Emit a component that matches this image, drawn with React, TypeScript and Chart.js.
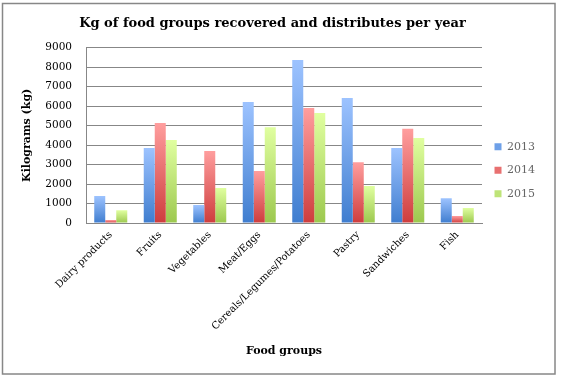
import React, { useEffect, useRef } from "react";
import { Chart, registerables } from "chart.js";

Chart.register(...registerables);

const categories = [
  "Dairy products",
  "Fruits",
  "Vegetables",
  "Meat/Eggs",
  "Cereals/Legumes/Potatoes",
  "Pastry",
  "Sandwiches",
  "Fish",
];
const years = ["2013", "2014", "2015"];
const values2013 = [1390, 3850, 920, 6210, 8370, 6420, 3850, 1270];
const values2014 = [150, 5130, 3700, 2670, 5900, 3120, 4830, 360];
const values2015 = [650, 4260, 1800, 4910, 5650, 1900, 4360, 770];
const yTicks = [0, 1000, 2000, 3000, 4000, 5000, 6000, 7000, 8000, 9000];

const topColors = ["#9DC3FF", "#FF9E9E", "#E0FFA0"];
const bottomColors = ["#3F7DCF", "#CE3D3D", "#9CC84E"];
const midColors = ["#6EA0E8", "#E87070", "#BEE478"];

const FONT = "'DejaVu Serif', 'Liberation Serif', serif";

const gradient = (i: number) => (ctx: any) => {
  const chart = ctx.chart;
  const area = chart.chartArea;
  if (!area || ctx.type !== "data" || !chart.scales.y) return midColors[i];
  const y = chart.scales.y.getPixelForValue(ctx.raw);
  const g = chart.ctx.createLinearGradient(0, y, 0, area.bottom);
  g.addColorStop(0, topColors[i]);
  g.addColorStop(1, bottomColors[i]);
  return g;
};

const framePlugin = {
  id: "frame",
  beforeDraw(chart: any) {
    const c = chart.ctx;
    c.save();
    c.fillStyle = "#ffffff";
    c.fillRect(0, 0, chart.width, chart.height);
    c.strokeStyle = "#878787";
    c.lineWidth = 1.5;
    c.strokeRect(2.5, 3.5, 552.5, 370.5);
    c.restore();
  },
};

export default function App() {
  const ref = useRef<HTMLCanvasElement | null>(null);
  useEffect(() => {
    if (!ref.current) return;
    const series = [values2013, values2014, values2015];
    const chart = new Chart(ref.current, {
      type: "bar",
      data: {
        labels: categories,
        datasets: years.map((y, i) => ({
          label: y,
          data: series[i],
          backgroundColor: gradient(i),
          borderWidth: 0,
          categoryPercentage: 0.667,
          barPercentage: 1,
        })),
      },
      options: {
        animation: false,
        responsive: true,
        maintainAspectRatio: false,
        layout: { padding: { left: 0, right: 24, top: 0, bottom: 0 } },
        plugins: {
          title: {
            display: true,
            text: "Kg of food groups recovered and distributes per year",
            color: "#000",
            font: { family: FONT, size: 13, weight: "bold" },
            padding: { top: 16, bottom: 16 },
          },
          legend: {
            position: "right",
            fullSize: false,
            align: "center",
            title: {
              display: true,
              text: "",
              font: { family: FONT, size: 10 },
              padding: { top: 58, bottom: 0 },
            },
            labels: {
              boxWidth: 7,
              boxHeight: 7,
              padding: 12.5,
              color: "#000",
              font: { family: FONT, size: 11 },
              generateLabels: (chart: any) =>
                chart.data.datasets.map((ds: any, i: number) => ({
                  text: ds.label,
                  fillStyle: midColors[i],
                  strokeStyle: midColors[i],
                  lineWidth: 0,
                  hidden: false,
                  datasetIndex: i,
                })),
            },
          },
          tooltip: { enabled: false },
        },
        scales: {
          x: {
            grid: { display: false, drawTicks: false },
            border: { display: true, color: "#878787", width: 1 },
            ticks: {
              autoSkip: false,
              minRotation: 45,
              maxRotation: 45,
              padding: 6,
              color: "#000",
              font: { family: FONT, size: 10 },
            },
            title: {
              display: true,
              text: "Food groups",
              color: "#000",
              font: { family: FONT, size: 11, weight: "bold" },
              padding: { top: 0, bottom: 30 },
            },
            afterFit: (scale: any) => {
              scale.height = 388 - 223;
            },
          },
          y: {
            min: 0,
            max: 9000,
            afterBuildTicks: (scale: any) => {
              scale.ticks = yTicks.map((v) => ({ value: v }));
            },
            grid: { color: "#878787", lineWidth: 1, drawTicks: false },
            border: { display: true, color: "#878787", width: 1 },
            ticks: {
              padding: 14,
              color: "#000",
              font: { family: FONT, size: 10.5 },
              callback: (v: any) => String(v),
            },
            title: {
              display: true,
              text: "Kilograms (kg)",
              color: "#000",
              font: { family: FONT, size: 11, weight: "bold" },
              padding: { top: 21, bottom: 0 },
            },
            afterFit: (scale: any) => {
              scale.width = 86;
            },
          },
        },
      },
      plugins: [framePlugin],
    });
    return () => chart.destroy();
  }, []);
  return (
    <div style={{ position: "absolute", left: 0, top: 0, width: 569, height: 388 }}>
      <canvas ref={ref} />
    </div>
  );
}
